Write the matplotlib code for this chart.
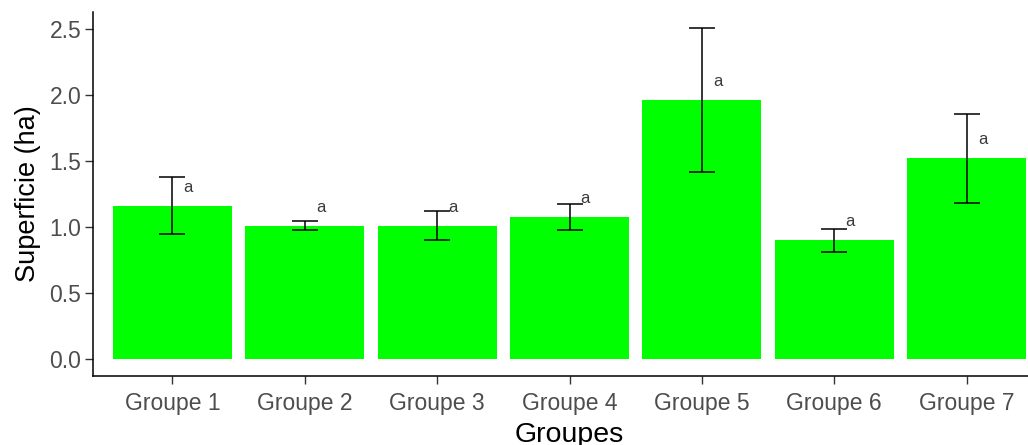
import numpy as np
import matplotlib.pyplot as plt

# Superficie moyenne par groupe, avec écart (barres d'erreur) et lettres de significativité
groupes = ["Groupe 1", "Groupe 2", "Groupe 3", "Groupe 4", "Groupe 5", "Groupe 6", "Groupe 7"]
moyennes = [1.16, 1.01, 1.01, 1.075, 1.96, 0.90, 1.52]
ecarts = [0.215, 0.035, 0.108, 0.10, 0.545, 0.086, 0.335]
lettres = ["a", "a", "a", "a", "a", "a", "a"]

plt.rcParams['font.family'] = ['Liberation Sans', 'DejaVu Sans']

fig = plt.figure(figsize=(10.28, 4.45), dpi=100)
# l'axe dépasse un peu à droite (dernier groupe coupé)
ax = fig.add_axes([93 / 1028, 69 / 445, 953 / 1028, 364 / 445])

x = np.arange(1, len(groupes) + 1)
ax.bar(x, moyennes, width=0.9, color="#00FF00", zorder=1)
ax.errorbar(x, moyennes, yerr=ecarts, fmt="none", ecolor="black",
            elinewidth=1.1, capsize=9.5, capthick=1.1, zorder=2)

for xi, m, lettre in zip(x, moyennes, lettres):
    ax.text(xi + 0.12, m + 0.14, lettre, ha="center", va="center",
            fontsize=12, color="#3a3a3a", zorder=3)

ax.set_xlim(0.4, 7.6)
ax.set_ylim(-0.125, 2.625)
ax.set_yticks([0.0, 0.5, 1.0, 1.5, 2.0, 2.5])
ax.set_yticklabels(["0.0", "0.5", "1.0", "1.5", "2.0", "2.5"])
ax.set_xticks(x)
ax.set_xticklabels(groupes)

# style "classic" : seulement les axes gauche et bas
for cote in ["top", "right"]:
    ax.spines[cote].set_visible(False)
for cote in ["left", "bottom"]:
    ax.spines[cote].set_linewidth(1.1)
    ax.spines[cote].set_color("black")

ax.tick_params(axis="both", length=5.5, width=1.0, color="#333333",
               labelsize=16.5, labelcolor="#4D4D4D")
ax.tick_params(axis="y", pad=3)
ax.tick_params(axis="x", pad=6)

ax.set_xlabel("Groupes", fontsize=20.5, color="black", labelpad=5)
ax.set_ylabel("Superficie (ha)", fontsize=19.5, color="black", labelpad=6)

fig.savefig("out.png", dpi=100)
